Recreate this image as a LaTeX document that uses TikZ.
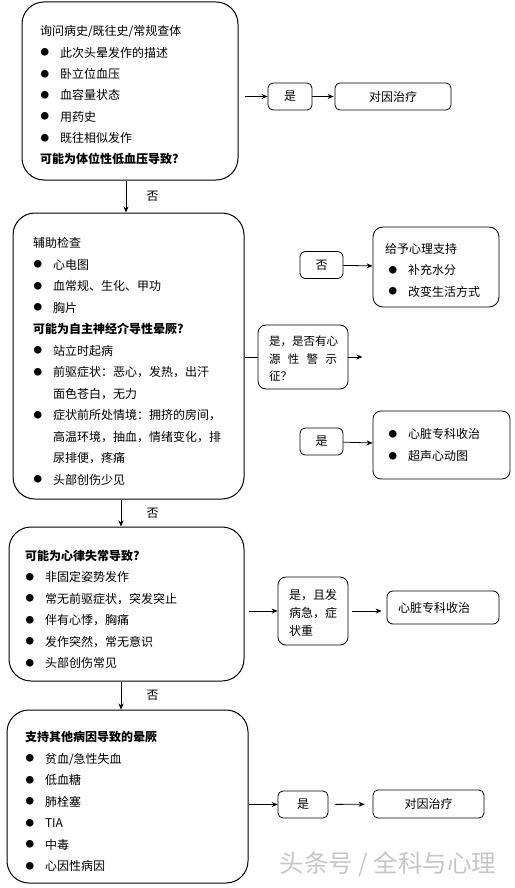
\documentclass[tikz,border=0pt]{standalone}
\usepackage{fontspec}
\setmainfont{Noto Sans CJK SC}
\usetikzlibrary{positioning,arrows.meta,calc}

\newcommand{\bul}{\makebox[20pt][l]{\hspace{0.5pt}\raisebox{1.3pt}{\fontsize{8.5}{8.5}\selectfont ●}}}
\newcommand{\cont}{\hspace*{20pt}}
\newcommand{\fst}[1]{\rule{0pt}{#1}}

\begin{document}
\begin{tikzpicture}[x=1pt,y=-1pt, arrow/.style = {line width=0.8pt,-{Stealth[length=6pt,width=5pt]}}]
		\tikzset{bigbox/.style={draw,rounded corners=22pt,line width=1pt,align=left,inner ysep=0pt,font=\fontsize{12}{21.5}\selectfont},
			smallbox/.style={draw,rounded corners=5pt,line width=0.8pt,inner sep=0pt,minimum height=27pt,font=\fontsize{12}{14}\selectfont},
			midbox/.style={draw,rounded corners=8pt,line width=0.8pt,align=left,inner ysep=0pt},
			nolabel/.style={right=#1,font=\fontsize{12}{14}\selectfont}}

		\useasboundingbox (0,0) rectangle (514,888);

		% watermark
		\node[text=gray!45,font=\fontsize{24.5}{25}\selectfont] (wm) at (388,864) {头条号 / 全科与心理};

		% main column
		\node[bigbox, inner xsep=18pt, text width=180pt, minimum width=216pt, minimum height=178pt, font=\fontsize{12}{21.3}\selectfont] (hist) at (130,91) {\fst{19pt}询问病史/既往史/常规查体\\
			\bul 此次头晕发作的描述\\
			\bul 卧立位血压\\
			\bul 血容量状态\\
			\bul 用药史\\
			\bul 既往相似发作\\
			\textbf{可能为体位性低血压导致?}};

		\node[bigbox, inner xsep=20pt, text width=191pt, minimum width=231pt, minimum height=286pt] (aux) at (128.5,356) {\fst{20.5pt}辅助检查\\
			\bul 心电图\\
			\bul 血常规、生化、甲功\\
			\bul 胸片\\
			\textbf{可能为自主神经介导性晕厥?}\\
			\bul 站立时起病\\
			\bul 前驱症状：恶心，发热，出汗\\
			\cont 面色苍白，无力\\
			\bul 症状前所处情境：拥挤的房间，\\
			\cont 高温环境，抽血，情绪变化，排\\
			\cont 尿排便，疼痛\\
			\bul 头部创伤少见};

		\node[bigbox, inner xsep=16pt, text width=203pt, minimum width=235pt, minimum height=154pt] (arr) at (126.5,604) {\fst{20.5pt}\textbf{可能为心律失常导致?}\\
			\bul 非固定姿势发作\\
			\bul 常无前驱症状，突发突止\\
			\bul 伴有心悸，胸痛\\
			\bul 发作突然，常无意识\\
			\bul 头部创伤常见};

		\node[bigbox, inner xsep=18pt, text width=205pt, minimum width=241pt, minimum height=173pt] (other) at (127.5,796.5) {\fst{20.5pt}\textbf{支持其他病因导致的晕厥}\\
			\bul 贫血/急性失血\\
			\bul 低血糖\\
			\bul 肺栓塞\\
			\bul TIA\\
			\bul 中毒\\
			\bul 心因性病因};

		% right column
		\node[smallbox, minimum width=44pt] (yes1) at (290,96.5) {是};
		\node[smallbox, minimum width=116pt] (cause1) at (393,96.5) {对因治疗};

		\node[smallbox, minimum width=43pt] (no2) at (321.5,265) {否};
		\node[midbox, rounded corners=10pt, inner xsep=12pt, text width=102pt, minimum height=80pt, font=\fontsize{12}{21.5}\selectfont] (support) at (436,267) {\fst{16.5pt}给予心理支持\\
			\hspace*{3pt}\bul 补充水分\\
			\hspace*{3pt}\bul 改变生活方式};

		\node[midbox, inner xsep=11pt, text width=68pt, minimum height=64pt, font=\fontsize{11.5}{17.5}\selectfont] (warn) at (303,357) {\fst{13pt}是，是否有心\\
			\makebox[68pt][s]{源\hfill 性\hfill 警\hfill 示}\\
			征？};
		\coordinate (warnend) at ([xshift=14pt]warn.east);

		\node[smallbox, minimum width=43pt] (yes2) at (321.5,441.5) {是};
		\node[midbox, inner xsep=15pt, text width=107pt, minimum height=68pt, font=\fontsize{12}{21.5}\selectfont] (cardio1) at (441.5,445) {\bul 心脏专科收治\\
			\bul 超声心动图};

		\node[midbox, inner xsep=11pt, text width=48pt, minimum height=68pt, font=\fontsize{12}{18}\selectfont] (acute) at (313,611) {\fst{13.5pt}是，且发\\
			病急，症\\
			状重};
		\node[midbox, rounded corners=6pt, inner xsep=11pt, text width=90pt, minimum height=33pt, font=\fontsize{12}{14}\selectfont] (cardio2) at (443,607.5) {心脏专科收治};

		\node[smallbox, minimum width=50pt] (yes4) at (303,804.5) {是};
		\node[smallbox, minimum width=111pt, minimum height=28pt] (cause4) at (428.5,804) {对因治疗};

		% Arrows
		\draw [arrow, shorten <=6pt] (hist.east |- yes1.west) -- (yes1.west);
		\draw [arrow, shorten >=1pt] (yes1) -- (cause1);
		\draw [arrow] ([xshift=-4pt]hist.south) -- ([xshift=-4pt]hist.south |- aux.north) node[midway, nolabel=17pt] {否};

		\draw [line width=0.8pt] (aux.east |- warn.west) -- (warn.west);
		\draw [arrow] (warn) -- (warnend);
		\draw [arrow] (no2) -- (support);
		\draw [arrow] (yes2) -- (cardio1);
		\draw [arrow] ([xshift=-7.5pt]aux.south) -- ([xshift=-7.5pt]aux.south |- arr.north) node[midway, nolabel=22pt] {否};

		\draw [arrow, shorten <=4pt] (arr.east |- acute.west) -- (acute.west);
		\draw [arrow, shorten <=4pt, shorten >=5pt] (acute) -- (acute -| cardio2.west);
		\draw [arrow] ([xshift=-5.5pt]arr.south) -- ([xshift=-5.5pt]arr.south |- other.north) node[midway, nolabel=22pt] {否};

		\draw [arrow] (other.east |- yes4.west) -- (yes4.west);
		\draw [arrow, shorten <=7pt, shorten >=8pt] (yes4) -- (cause4);

	\end{tikzpicture}
\end{document}
